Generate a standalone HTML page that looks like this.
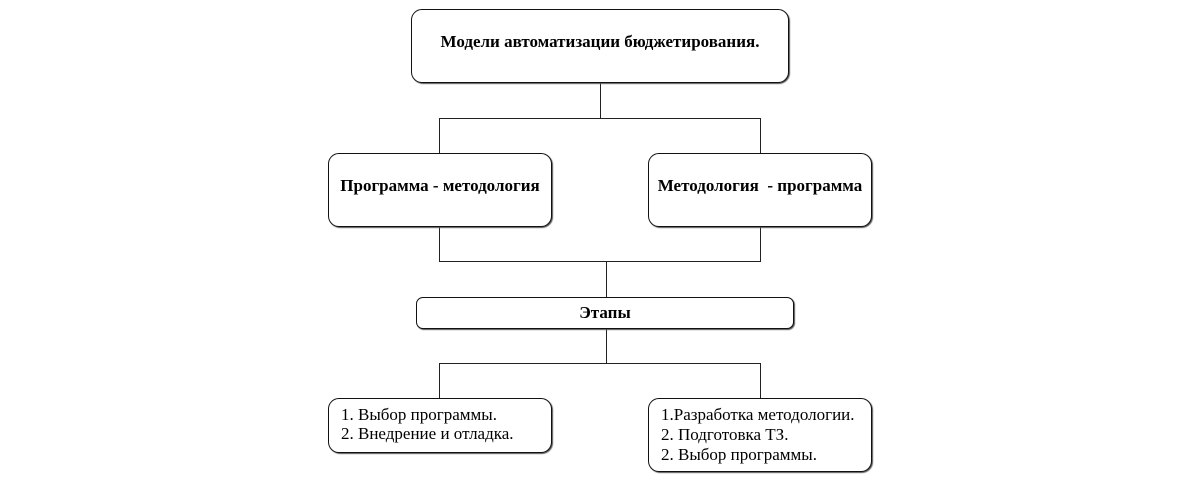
<!DOCTYPE html>
<html><head><meta charset="utf-8"><style>
body{margin:0;width:1200px;height:485px;background:#fff;position:relative;overflow:hidden;font-family:"Liberation Serif",serif;color:#000}
.b{position:absolute;box-sizing:border-box;border:1.5px solid #111;border-radius:11px;background:#fff;box-shadow:1px 1px 1px #555}
.t{position:absolute;font-size:17px;white-space:nowrap;line-height:20px}
.bold{font-weight:bold}
.l{position:absolute;background:#222}
</style></head><body>
<div class="l" style="left:600px;top:83px;width:1px;height:36px"></div>
<div class="l" style="left:439px;top:118px;width:322px;height:1px"></div>
<div class="l" style="left:439px;top:118px;width:1px;height:36px"></div>
<div class="l" style="left:760px;top:118px;width:1px;height:36px"></div>
<div class="l" style="left:439px;top:226px;width:1px;height:36px"></div>
<div class="l" style="left:760px;top:226px;width:1px;height:36px"></div>
<div class="l" style="left:439px;top:261px;width:322px;height:1px"></div>
<div class="l" style="left:606px;top:262px;width:1px;height:36px"></div>
<div class="l" style="left:606px;top:328px;width:1px;height:36px"></div>
<div class="l" style="left:439px;top:363px;width:322px;height:1px"></div>
<div class="l" style="left:439px;top:363px;width:1px;height:36px"></div>
<div class="l" style="left:760px;top:363px;width:1px;height:36px"></div>

<div class="b" style="left:411px;top:9px;width:378px;height:74px"></div>
<div class="t bold" style="left:411px;width:378px;text-align:center;top:32px">Модели автоматизации бюджетирования.</div>

<div class="b" style="left:328px;top:153px;width:224px;height:74px"></div>
<div class="t bold" style="left:328px;width:224px;text-align:center;top:176px">Программа - методология</div>
<div class="b" style="left:648px;top:153px;width:224px;height:74px"></div>
<div class="t bold" style="left:648px;width:224px;text-align:center;top:176px">Методология &nbsp;- программа</div>

<div class="b" style="left:416px;top:297px;width:378px;height:32px;border-radius:7px"></div>
<div class="t bold" style="left:416px;width:378px;text-align:center;top:303px">Этапы</div>

<div class="b" style="left:328px;top:398px;width:224px;height:55px"></div>
<div class="t" style="left:341px;top:405px;line-height:19px">1. Выбор программы.<br>2. Внедрение и отладка.</div>
<div class="b" style="left:648px;top:398px;width:224px;height:74px"></div>
<div class="t" style="left:661px;top:405px">1.Разработка методологии.<br>2. Подготовка ТЗ.<br>2. Выбор программы.</div>
</body></html>
